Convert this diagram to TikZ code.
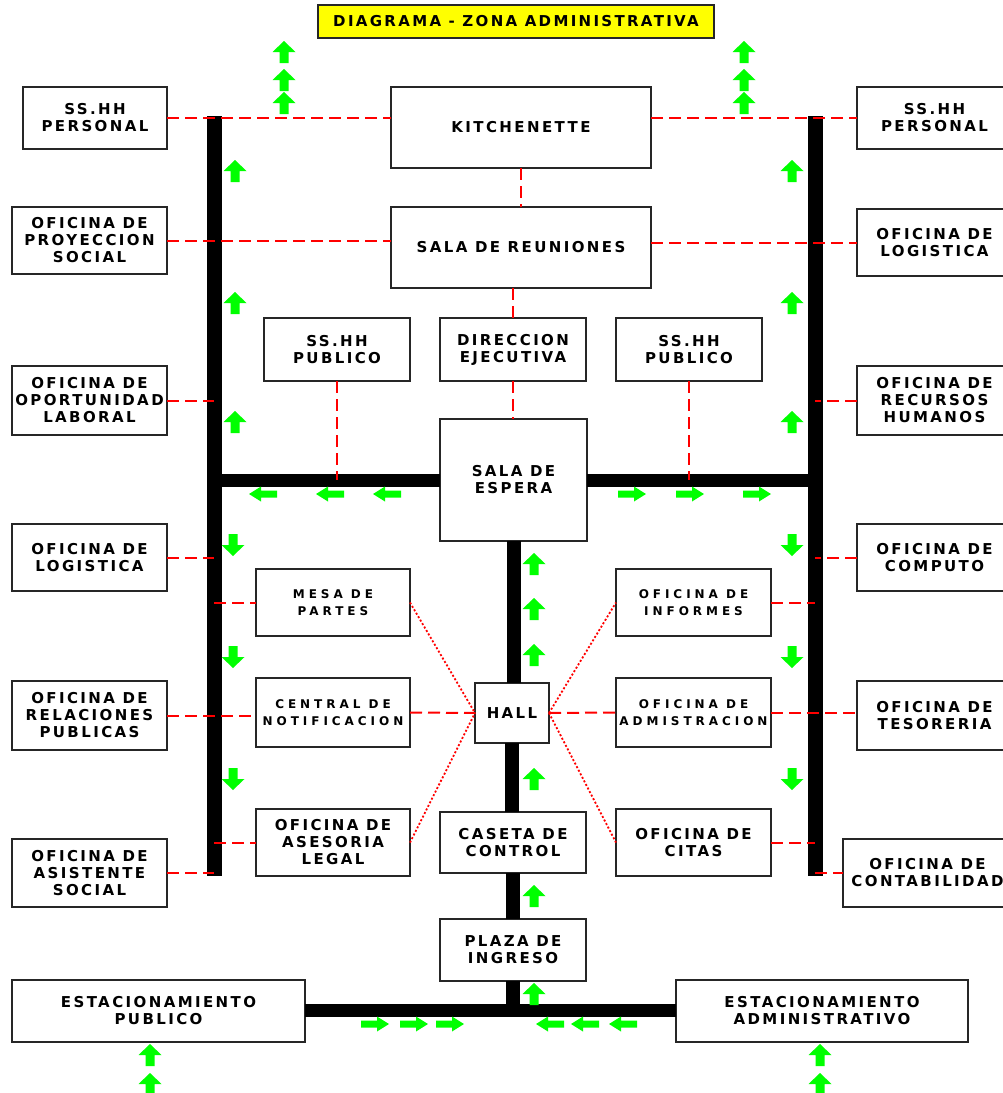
\documentclass[tikz,border=0pt]{standalone}
\usepackage{fontspec}
\setmainfont{DejaVu Sans}
\newfontfamily\boxfont{DejaVu Sans}[LetterSpace=16]
\newfontfamily\smallfont{DejaVu Sans}[LetterSpace=33]
\newfontfamily\titlefont{DejaVu Sans}[LetterSpace=15.5]
\definecolor{flowgreen}{HTML}{00FF00}
\definecolor{linkred}{HTML}{FF0000}
\definecolor{titleyellow}{HTML}{FFFF00}
\begin{document}
\begin{tikzpicture}[x=1pt,y=-1pt,
  box/.style={draw=black!85, line width=1.3pt, inner sep=0pt, outer sep=0pt,
    align=center, font=\boxfont\bfseries\fontsize{15}{17}\selectfont},
  smallbox/.style={box, font=\smallfont\bfseries\fontsize{12}{17}\selectfont},
  titlebox/.style={box, fill=titleyellow, font=\titlefont\bfseries\fontsize{15}{17}\selectfont},
  sidebar/.style={line width=15pt, black},
  hbar/.style={line width=13pt, black},
  cbar/.style={line width=14pt, black},
  link/.style={draw=linkred, line width=2pt, dash pattern=on 12pt off 6pt},
  dotlink/.style={draw=linkred, line width=1.8pt, dash pattern=on 2pt off 2pt},
  pics/uparr/.style={code={\fill[flowgreen] (0,-11) -- (11.5,0) -- (4.5,0) -- (4.5,11) -- (-4.5,11) -- (-4.5,0) -- (-11.5,0) -- cycle;}},
  pics/downarr/.style={code={\fill[flowgreen] (0,11) -- (11.5,0) -- (4.5,0) -- (4.5,-11) -- (-4.5,-11) -- (-4.5,0) -- (-11.5,0) -- cycle;}},
  pics/leftarr/.style={code={\fill[flowgreen] (-14,0) -- (-2,-7.5) -- (-2,-3.5) -- (14,-3.5) -- (14,3.5) -- (-2,3.5) -- (-2,7.5) -- cycle;}},
  pics/rightarr/.style={code={\fill[flowgreen] (14,0) -- (2,-7.5) -- (2,-3.5) -- (-14,-3.5) -- (-14,3.5) -- (2,3.5) -- (2,7.5) -- cycle;}},
]
\useasboundingbox (0,0) rectangle (1003,1093);

% title
\node[titlebox, minimum width=396pt, minimum height=33pt] (title) at (516,21.5) {DIAGRAMA - ZONA ADMINISTRATIVA};

% left column of offices
\node[box, minimum width=144pt, minimum height=62pt] (lp1) at (95,118) {SS.HH\\PERSONAL};
\node[box, minimum width=155pt, minimum height=67pt] (lp2) at (89.5,240.5) {OFICINA DE\\PROYECCION\\SOCIAL};
\node[box, minimum width=155pt, minimum height=69pt] (lp3) at (89.5,400.5) {OFICINA DE\\OPORTUNIDAD\\LABORAL};
\node[box, minimum width=155pt, minimum height=67pt] (lp4) at (89.5,557.5) {OFICINA DE\\LOGISTICA};
\node[box, minimum width=155pt, minimum height=69pt] (lp5) at (89.5,715.5) {OFICINA DE\\RELACIONES\\PUBLICAS};
\node[box, minimum width=155pt, minimum height=68pt] (lp6) at (89.5,873) {OFICINA DE\\ASISTENTE\\SOCIAL};

% right column of offices
\node[box, minimum width=155pt, minimum height=62pt] (rp1) at (934.5,118) {SS.HH\\PERSONAL};
\node[box, minimum width=155pt, minimum height=67pt] (rp2) at (934.5,242.5) {OFICINA DE\\LOGISTICA};
\node[box, minimum width=155pt, minimum height=69pt] (rp3) at (934.5,400.5) {OFICINA DE\\RECURSOS\\HUMANOS};
\node[box, minimum width=155pt, minimum height=67pt] (rp4) at (934.5,557.5) {OFICINA DE\\COMPUTO};
\node[box, minimum width=155pt, minimum height=69pt] (rp5) at (934.5,715.5) {OFICINA DE\\TESORERIA};
\node[box, minimum width=169pt, minimum height=68pt] (rp6) at (927.5,873) {OFICINA DE\\CONTABILIDAD};

% central block
\node[box, minimum width=260pt, minimum height=81pt] (kit) at (521,127.5) {KITCHENETTE};
\node[box, minimum width=260pt, minimum height=81pt] (reu) at (521,247.5) {SALA DE REUNIONES};
\node[box, minimum width=146pt, minimum height=63pt] (shl) at (337,349.5) {SS.HH\\PUBLICO};
\node[box, minimum width=146pt, minimum height=63pt] (dir) at (513,349.5) {DIRECCION\\EJECUTIVA};
\node[box, minimum width=146pt, minimum height=63pt] (shr) at (689,349.5) {SS.HH\\PUBLICO};
\node[box, minimum width=147pt, minimum height=122pt] (esp) at (513.5,480) {SALA DE\\ESPERA};

\node[smallbox, minimum width=154pt, minimum height=67pt] (mesa) at (333,602.5) {MESA DE\\PARTES};
\node[smallbox, minimum width=154pt, minimum height=69pt] (cen) at (333,712.5) {CENTRAL DE\\NOTIFICACION};
\node[box, minimum width=154pt, minimum height=67pt] (ase) at (333,842.5) {OFICINA DE\\ASESORIA\\LEGAL};
\node[box, minimum width=74pt, minimum height=60pt] (hall) at (512,713) {HALL};
\node[box, minimum width=146pt, minimum height=61pt] (cas) at (513,842.5) {CASETA DE\\CONTROL};
\node[smallbox, minimum width=155pt, minimum height=67pt] (inf) at (693.5,602.5) {OFICINA DE\\INFORMES};
\node[smallbox, minimum width=155pt, minimum height=69pt] (adm) at (693.5,712.5) {OFICINA DE\\ADMISTRACION};
\node[box, minimum width=155pt, minimum height=67pt] (cit) at (693.5,842.5) {OFICINA DE\\CITAS};
\node[box, minimum width=146pt, minimum height=62pt] (pla) at (513,950) {PLAZA DE\\INGRESO};
\node[box, minimum width=293pt, minimum height=62pt] (estp) at (158.5,1011) {ESTACIONAMIENTO\\PUBLICO};
\node[box, minimum width=292pt, minimum height=62pt] (esta) at (822,1011) {ESTACIONAMIENTO\\ADMINISTRATIVO};

% circulation spines
\coordinate (lt) at (214,116);
\coordinate (lb) at (214,876);
\coordinate (rt) at (815,116);
\coordinate (rb) at (815,876);
\coordinate (lj) at (214,480);
\coordinate (rj) at (815,480);
\coordinate (bj) at (513,1010);

\draw[sidebar] (lt) -- (lb);
\draw[sidebar] (rt) -- (rb);
\draw[hbar] (lj) -- (esp.west);
\draw[hbar] (esp.east) -- (rj);
\draw[cbar] (esp.south) -- (esp.south |- hall.north);
\draw[cbar] (hall.south) -- (hall.south |- cas.north);
\draw[cbar] (cas.south) -- (pla.north);
\draw[cbar] (pla.south) -- (bj);
\draw[hbar] (estp.east |- bj) -- (esta.west |- bj);

% functional relations (dashed)
\draw[link] (lp1.east) -- (lp1.east -| kit.west);
\draw[link] (kit.east |- rp1.west) -- (rp1.west);
\draw[link] (kit.south) -- (reu.north);
\draw[link] (lp2.east) -- (lp2.east -| reu.west);
\draw[link] (reu.east |- rp2.west) -- (rp2.west);
\draw[link] (dir.north |- reu.south) -- (dir.north);
\draw[link] (dir.south) -- (dir.south |- esp.north);
\draw[link] (shl.south) -- (shl.south |- lj);
\draw[link] (shr.south) -- (shr.south |- rj);
\draw[link] (lp3.east) -- (lp3.east -| lt);
\draw[link] (rp3.west) -- (rp3.west -| rt);
\draw[link] (lp4.east) -- (lp4.east -| lt);
\draw[link] (rp4.west) -- (rp4.west -| rt);
\draw[link] (mesa.west -| lt) -- (mesa.west);
\draw[link] (inf.east) -- (inf.east -| rt);
\draw[link] (lp5.east) -- (lp5.east -| cen.west);
\draw[link] (cen.east) -- (hall.west);
\draw[link] (hall.east) -- (adm.west);
\draw[link] (adm.east) -- (adm.east -| rp5.west);
\draw[link] (ase.west -| lt) -- (ase.west);
\draw[link] (cit.east) -- (cit.east -| rt);
\draw[link] (lp6.east) -- (lp6.east -| lb);
\draw[link] (rp6.west -| rb) -- (rp6.west);

% relations through the hall (dotted)
\draw[dotlink] (mesa.east) -- (hall.west);
\draw[dotlink] (ase.east) -- (hall.west);
\draw[dotlink] (hall.east) -- (inf.west);
\draw[dotlink] (hall.east) -- (cit.west);

% flow arrows
\foreach \y in {52,80,103} {
  \pic at (284,\y) {uparr};
  \pic at (744,\y) {uparr};
}
\foreach \y in {171,303,422} {
  \pic at (235,\y) {uparr};
  \pic at (792,\y) {uparr};
}
\foreach \y in {545,657,779} {
  \pic at (233,\y) {downarr};
  \pic at (792,\y) {downarr};
}
\foreach \x in {263,330,387} \pic at (\x,494) {leftarr};
\foreach \x in {632,690,757} \pic at (\x,494) {rightarr};
\foreach \y in {564,609,655,779,896,994} \pic at (534,\y) {uparr};
\foreach \x in {375,414,450} \pic at (\x,1024) {rightarr};
\foreach \x in {550,585,623} \pic at (\x,1024) {leftarr};
\foreach \y in {1055,1084} {
  \pic at (150,\y) {uparr};
  \pic at (820,\y) {uparr};
}
\end{tikzpicture}
\end{document}
